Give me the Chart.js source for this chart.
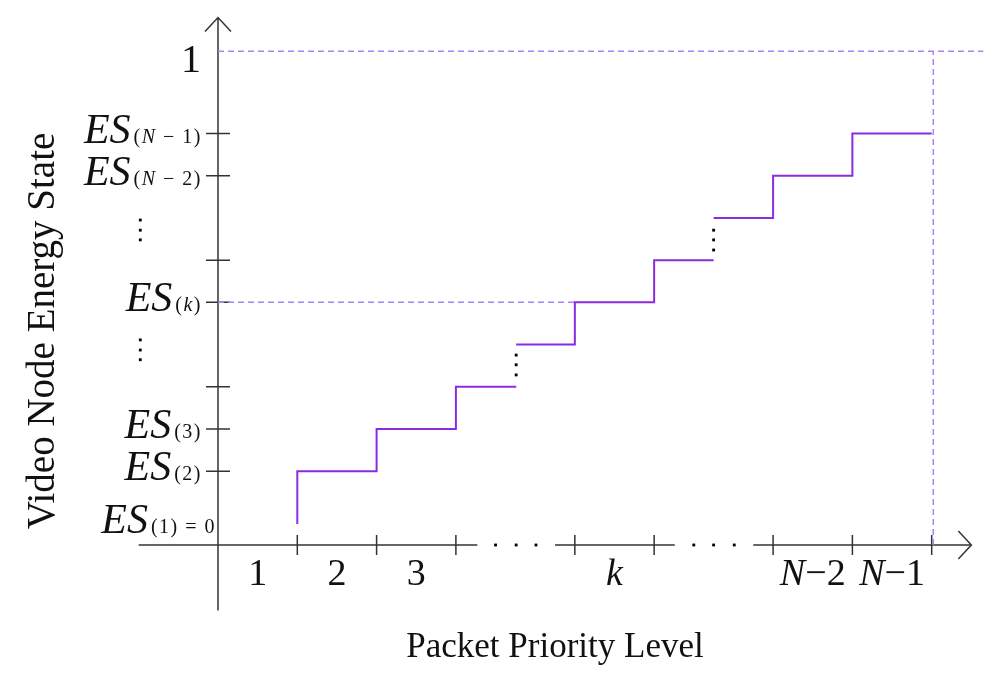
<!DOCTYPE html>
<html>
<head>
<meta charset="utf-8">
<script src="https://cdn.jsdelivr.net/npm/chart.js@4.4.1/dist/chart.umd.min.js"></script>
<style>
  html, body { margin: 0; padding: 0; background: #fff; }
  #wrap { width: 1000px; height: 682px; }
</style>
</head>
<body>
<div id="wrap"><canvas id="stepChart" width="1000" height="682"></canvas></div>
<script>
// step curve: priority level (x) vs energy state (y), null = break at the dots
const stepX = [1, 1, 2, 3, 3.76, 3.76, 3.76, 4.5, 5.5, 6.25, 6.25, 6.25, 7, 8, 9];
const stepY = [0.5, 1.75, 2.75, 3.75, 3.75, null, 4.75, 5.75, 6.75, 6.75, null, 7.75, 8.75, 9.75, 9.75];

const topLevel = 11.7;      // energy state 1
const kLevel = 5.75;        // ES(k)
const kBoundary = 4.5;
const lastBoundary = 9.02;

// axis ticks
const xTickValues = [1, 2, 3, 4.5, 5.5, 7, 8, 9];
const xLabels = ['1', '2', '3', 'k', 'N\u22122', 'N\u22121'];
const xLabelAt = [0.5, 1.5, 2.5, 5, 7.5, 8.5];
const yTickValues = [1.75, 2.75, 3.75, 5.75, 6.75, 8.75, 9.75];
const yTickSubs = ['(2)', '(3)', '', '(k)', '', '(N \u2212 2)', '(N \u2212 1)'];

// ellipsis dots
const dotsX = [3.5, 3.76, 4.01, 6.0, 6.25, 6.51, 3.76, 3.76, 3.76, 6.25, 6.25, 6.25, -0.98, -0.98, -0.98, -0.98, -0.98, -0.98];
const dotsY = [0, 0, 0, 0, 0, 0, 4.5, 4.27, 4.03, 7.46, 7.23, 6.99, 7.7, 7.46, 7.23, 4.86, 4.62, 4.39];

const SERIF = '"Liberation Serif", "Times New Roman", serif';

function runsOf(str) {
  const runs = [];
  for (const ch of str) {
    const it = /[A-Za-z]/.test(ch);
    if (runs.length && runs[runs.length - 1].it === it) runs[runs.length - 1].t += ch;
    else runs.push({ t: ch, it: it });
  }
  return runs;
}

function runsWidth(ctx, runs, size, spacing) {
  let w = 0;
  runs.forEach(r => {
    ctx.font = (r.it ? 'italic ' : '') + size + 'px ' + SERIF;
    ctx.letterSpacing = spacing + 'px';
    w += ctx.measureText(r.t).width;
  });
  return w;
}

function drawRuns(ctx, str, size, x, y, align, spacing) {
  spacing = spacing || 0;
  const runs = runsOf(str);
  const w = runsWidth(ctx, runs, size, spacing);
  let cx = align === 'right' ? x - w : align === 'center' ? x - w / 2 : x;
  ctx.textAlign = 'left';
  runs.forEach(r => {
    ctx.font = (r.it ? 'italic ' : '') + size + 'px ' + SERIF;
    ctx.letterSpacing = spacing + 'px';
    ctx.fillText(r.t, cx, y);
    cx += ctx.measureText(r.t).width;
  });
  ctx.letterSpacing = '0px';
  return w;
}

function drawES(ctx, sub, xRight, baseline) {
  const subW = drawRuns(ctx, sub, 20, xRight, baseline, 'right', 1.5);
  ctx.font = 'italic 42px ' + SERIF;
  ctx.textAlign = 'right';
  ctx.fillText('ES', xRight - subW - 3, baseline);
}

const axesPlugin = {
  id: 'axes',
  beforeDatasetsDraw(chart) {
    const ctx = chart.ctx;
    const xs = chart.scales.x, ys = chart.scales.y;
    const x0 = xs.getPixelForValue(0), y0 = ys.getPixelForValue(0);
    ctx.save();
    ctx.strokeStyle = '#333';
    ctx.lineWidth = 1.5;
    // y axis with arrow
    const yTop = ys.getPixelForValue(12.5);
    ctx.beginPath();
    ctx.moveTo(x0, ys.getPixelForValue(-1.55));
    ctx.lineTo(x0, yTop);
    ctx.moveTo(x0 - 13, yTop + 14);
    ctx.lineTo(x0, yTop);
    ctx.lineTo(x0 + 13, yTop + 14);
    ctx.stroke();
    // x axis, broken where the dots are
    [[-1, 3.27], [4.25, 5.76], [6.75, 9.5]].forEach(s => {
      ctx.beginPath();
      ctx.moveTo(xs.getPixelForValue(s[0]), y0);
      ctx.lineTo(xs.getPixelForValue(s[1]), y0);
      ctx.stroke();
    });
    const xTip = xs.getPixelForValue(9.5);
    ctx.beginPath();
    ctx.moveTo(xTip - 13, y0 - 14);
    ctx.lineTo(xTip, y0);
    ctx.lineTo(xTip - 13, y0 + 14);
    ctx.stroke();
    // tick marks
    ctx.beginPath();
    xTickValues.forEach(v => {
      const px = xs.getPixelForValue(v);
      ctx.moveTo(px, y0 - 10);
      ctx.lineTo(px, y0 + 10);
    });
    yTickValues.forEach(v => {
      const py = ys.getPixelForValue(v);
      ctx.moveTo(x0 - 12, py);
      ctx.lineTo(x0 + 12, py);
    });
    ctx.stroke();
    ctx.restore();
  },
  afterDraw(chart) {
    const ctx = chart.ctx;
    const xs = chart.scales.x, ys = chart.scales.y;
    const x0 = xs.getPixelForValue(0), y0 = ys.getPixelForValue(0);
    ctx.save();
    ctx.fillStyle = '#111';
    ctx.textBaseline = 'alphabetic';
    // x labels
    xLabels.forEach((l, i) => {
      drawRuns(ctx, l, 38, xs.getPixelForValue(xLabelAt[i]), y0 + 40, 'center');
    });
    // y labels
    yTickValues.forEach((v, i) => {
      if (yTickSubs[i]) drawES(ctx, yTickSubs[i], x0 - 16, ys.getPixelForValue(v) + 9);
    });
    drawES(ctx, '(1) = 0', x0 - 2, y0 - 12);
    ctx.font = '40px ' + SERIF;
    ctx.textAlign = 'center';
    ctx.fillText('1', x0 - 27, ys.getPixelForValue(topLevel) + 21);
    // axis titles
    ctx.font = '35px ' + SERIF;
    ctx.fillText('Packet Priority Level', 555, 657);
    ctx.save();
    ctx.translate(44, 331);
    ctx.rotate(-Math.PI / 2);
    ctx.font = '39px ' + SERIF;
    ctx.textBaseline = 'middle';
    ctx.fillText('Video Node Energy State', 0, 0);
    ctx.restore();
    ctx.restore();
  }
};

const guideStyle = {
  borderColor: '#a585f7',
  borderWidth: 1.5,
  borderDash: [6, 4],
  pointRadius: 0,
  fill: false
};

new Chart(document.getElementById('stepChart').getContext('2d'), {
  type: 'line',
  data: {
    datasets: [
      {
        label: 'energy state',
        data: stepX.map((x, i) => ({ x: x, y: stepY[i] })),
        stepped: true,
        borderColor: '#8a2be2',
        borderWidth: 2,
        pointRadius: 0,
        fill: false
      },
      Object.assign({ data: [{ x: 0, y: topLevel }, { x: 9.65, y: topLevel }] }, guideStyle),
      Object.assign({ data: [{ x: lastBoundary, y: 0 }, { x: lastBoundary, y: topLevel }] }, guideStyle),
      Object.assign({ data: [{ x: 0, y: kLevel }, { x: kBoundary, y: kLevel }] }, guideStyle),
      {
        type: 'scatter',
        data: dotsX.map((x, i) => ({ x: x, y: dotsY[i] })),
        pointStyle: 'rect',
        pointRadius: 2,
        backgroundColor: '#000',
        borderWidth: 0,
        clip: false
      }
    ]
  },
  options: {
    responsive: false,
    animation: false,
    layout: { padding: { left: 138.7, right: 12.8, top: 17.5, bottom: 71.6 } },
    plugins: { legend: { display: false }, tooltip: { enabled: false } },
    scales: {
      x: { type: 'linear', min: -1, max: 9.7, display: false },
      y: { type: 'linear', min: -1.55, max: 12.5, display: false }
    }
  },
  plugins: [axesPlugin]
});
</script>
</body>
</html>
